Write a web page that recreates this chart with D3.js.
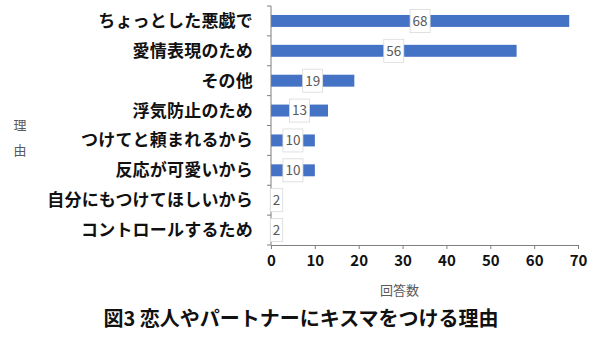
<!DOCTYPE html>
<html>
<head>
<meta charset="utf-8">
<script src="https://cdn.jsdelivr.net/npm/d3@7"></script>
<style>
  html, body { margin: 0; padding: 0; background: #fff; }
  svg { display: block; font-family: "Noto Sans CJK JP", "Noto Sans", sans-serif; }
</style>
</head>
<body>
<svg id="chart" width="600" height="337"></svg>
<script>
// Reasons for giving a hickey, number of answers
const reasons = [
  "ちょっとした悪戯で",
  "愛情表現のため",
  "その他",
  "浮気防止のため",
  "つけてと頼まれるから",
  "反応が可愛いから",
  "自分にもつけてほしいから",
  "コントロールするため"
];
const counts = [68, 56, 19, 13, 10, 10, 2, 2];
const xTicks = [0, 10, 20, 30, 40, 50, 60, 70];

const svg = d3.select("#chart");
const margin = { left: 271, right: 22, top: 6, bottom: 92 };
const W = 600, H = 337;

const x = d3.scaleLinear().domain([0, 70]).range([margin.left, W - margin.right]);
const y = d3.scaleBand().domain(reasons).range([margin.top, H - margin.bottom]).paddingInner(0.6).paddingOuter(0.3);
const yLines = d3.scaleBand().domain(reasons).range([margin.top, H - margin.bottom]);

const axisColor = "#7f7f7f";

// bars
svg.append("g").selectAll("rect").data(reasons).join("rect")
  .attr("x", x(0))
  .attr("y", d => y(d))
  .attr("width", (d, i) => x(counts[i]) - x(0))
  .attr("height", y.bandwidth())
  .attr("fill", "#4472C4");

// y axis: line with ticks at band boundaries
const gy = svg.append("g");
gy.append("line")
  .attr("x1", x(0)).attr("x2", x(0))
  .attr("y1", margin.top).attr("y2", H - margin.bottom)
  .attr("stroke", axisColor).attr("stroke-width", 1);
const bounds = reasons.map(r => yLines(r)).concat([H - margin.bottom]);
gy.selectAll("line.tk").data(bounds).join("line")
  .attr("class", "tk")
  .attr("x1", x(0) - 4).attr("x2", x(0))
  .attr("y1", d => d).attr("y2", d => d)
  .attr("stroke", axisColor);
gy.selectAll("text").data(reasons).join("text")
  .attr("x", 253)
  .attr("y", d => yLines(d) + yLines.bandwidth() / 2)
  .attr("dy", "0.35em")
  .attr("text-anchor", "end")
  .attr("font-size", 17)
  .attr("letter-spacing", 0.2)
  .attr("font-weight", "bold")
  .attr("fill", "#111")
  .text(d => d);

// x axis
const gx = svg.append("g")
  .attr("transform", `translate(0,${H - margin.bottom})`)
  .call(d3.axisBottom(x).tickValues(xTicks).tickSize(4).tickSizeOuter(0).tickPadding(6));
gx.select(".domain").attr("stroke", axisColor);
gx.selectAll(".tick line").attr("stroke", axisColor);
gx.selectAll(".tick text")
  .attr("font-size", 15)
  .attr("font-weight", "bold")
  .attr("fill", "#111")
  .attr("font-family", "\"Noto Sans CJK JP\", sans-serif");

// value labels in boxed callouts
const lbl = svg.append("g").selectAll("g").data(reasons).join("g")
  .attr("transform", (d, i) => {
    const cx = Math.max(x(counts[i] / 2), x(0) + 5.5);
    return `translate(${cx},${y(d) + y.bandwidth() / 2})`;
  });
lbl.append("text")
  .attr("text-anchor", "middle")
  .attr("dy", "0.36em")
  .attr("font-size", 13.5)
  .attr("fill", "#595959")
  .attr("font-family", "\"Noto Sans CJK JP\", sans-serif")
  .text((d, i) => counts[i]);
lbl.each(function () {
  const g = d3.select(this);
  const bb = g.select("text").node().getBBox();
  g.insert("rect", "text")
    .attr("x", bb.x - 2.5)
    .attr("y", -11.5)
    .attr("width", bb.width + 5)
    .attr("height", 23)
    .attr("fill", "#fff")
    .attr("stroke", "#d9d9d9")
    .attr("stroke-width", 0.8);
});

// axis titles
svg.append("text")
  .attr("x", (x(0) + x(70)) / 2 - 25)
  .attr("y", 295)
  .attr("text-anchor", "middle")
  .attr("font-size", 13)
  .attr("fill", "#595959")
  .text("回答数");

svg.append("text")
  .attr("x", 20)
  .attr("y", 130)
  .attr("text-anchor", "middle")
  .attr("font-size", 13)
  .attr("fill", "#595959")
  .selectAll("tspan").data(["理", "由"]).join("tspan")
  .attr("x", 20)
  .attr("dy", (d, i) => i === 0 ? 0 : "1.9em")
  .text(d => d);

// chart title
svg.append("text")
  .attr("x", 301)
  .attr("y", 326)
  .attr("text-anchor", "middle")
  .attr("font-size", 20)
  .attr("font-weight", "bold")
  .attr("fill", "#111")
  .text("図3 恋人やパートナーにキスマをつける理由");
</script>
</body>
</html>
